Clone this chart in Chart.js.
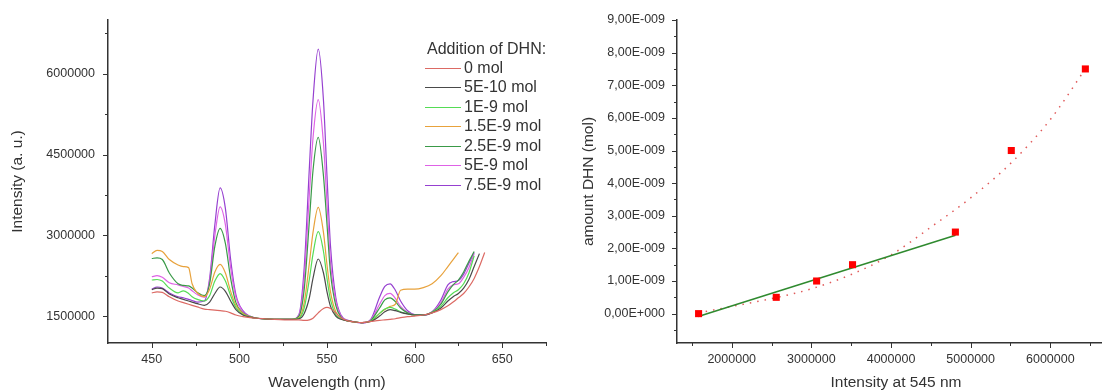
<!DOCTYPE html>
<html>
<head>
<meta charset="utf-8">
<script src="https://cdn.jsdelivr.net/npm/chart.js@4.4.1/dist/chart.umd.min.js"></script>
<style>
    html, body { margin: 0; padding: 0; background: #fff; width: 1102px; height: 392px; overflow: hidden; }
    #specChart { position: absolute; left: 0; top: 0; }
    #calChart  { position: absolute; left: 560px; top: 0; }
</style>
</head>
<body>
<canvas id="specChart" width="560" height="392"></canvas>
<canvas id="calChart" width="600" height="392"></canvas>
<script>
/* ── Data: spectra (intensity in units of 1 000 000) ── */
const wavelengths = [450, 453, 456, 460, 465, 468, 471, 473, 476, 480,
                     483, 486, 489, 492, 495, 498, 502, 506, 510, 520,
                     530, 534, 537, 540, 542, 545, 548, 550, 552, 555,
                     558, 562, 566, 570, 575, 580, 583, 586, 589, 592,
                     596, 600, 605, 610, 615, 619, 622, 625, 628, 631,
                     634, 637, 640];

const seriesLabels = ['0 mol', '5E-10 mol', '1E-9 mol', '1.5E-9 mol', '2.5E-9 mol', '5E-9 mol', '7.5E-9 mol'];
const seriesColors = ['#dc6a64', '#4a4a4a', '#55dc55', '#e8a23c', '#3a9a48', '#de62e6', '#9640d0'];

const mol0 = [1.93, 1.95, 1.94, 1.86, 1.78, 1.75, 1.72, 1.70, 1.67, 1.63,
              1.62, 1.61, 1.60, 1.59, 1.56, 1.52, 1.49, 1.47, 1.46, 1.44,
              1.43, 1.43, 1.42, 1.43, 1.46, 1.56, 1.64, 1.66, 1.64, 1.56,
              1.47, 1.41, 1.39, 1.38, 1.40, 1.42, 1.43, 1.44, 1.45, 1.47,
              1.49, 1.50, 1.52, 1.56, 1.62, 1.69, 1.76, 1.84, 1.92, 2.04,
              2.20, 2.42, 2.68];
const mol5e10 = [1.99, 2.02, 2.01, 1.91, 1.84, 1.81, 1.78, 1.76, 1.73, 1.70,
                 1.76, 1.92, 2.04, 1.96, 1.78, 1.62, 1.52, 1.48, 1.46, 1.44,
                 1.44, 1.45, 1.55, 1.85, 2.20, 2.56, 2.30, 1.95, 1.68, 1.50,
                 1.44, 1.41, 1.39, 1.38, 1.40, 1.50, 1.58, 1.62, 1.60, 1.57,
                 1.54, 1.52, 1.52, 1.56, 1.65, 1.78, 1.86, 1.92, 2.02, 2.18,
                 2.42, 2.66, null];
const mol1e9 = [2.17, 2.18, 2.15, 2.02, 1.93, 1.97, 1.92, 1.86, 1.81, 1.78,
                1.88, 2.15, 2.29, 2.15, 1.88, 1.66, 1.53, 1.48, 1.46, 1.44,
                1.44, 1.46, 1.65, 2.20, 2.65, 3.07, 2.70, 2.20, 1.80, 1.53,
                1.45, 1.41, 1.39, 1.38, 1.41, 1.55, 1.63, 1.66, 1.63, 1.58,
                1.54, 1.52, 1.52, 1.57, 1.68, 1.84, 1.93, 1.99, 2.10, 2.30,
                2.62, null, null];
const mol15e9 = [2.66, 2.72, 2.70, 2.55, 2.45, 2.42, 2.40, 2.10, 1.93, 1.86,
                 2.00, 2.32, 2.46, 2.30, 1.96, 1.70, 1.55, 1.49, 1.46, 1.44,
                 1.44, 1.47, 1.75, 2.50, 3.05, 3.52, 3.05, 2.45, 1.95, 1.58,
                 1.46, 1.41, 1.39, 1.38, 1.40, 1.55, 1.62, 1.68, 1.72, 1.98,
                 2.00, 2.00, 2.03, 2.10, 2.25, 2.42, 2.55, 2.68, null, null,
                 null, null, null];
const mol25e9 = [2.57, 2.58, 2.55, 2.30, 2.10, 2.07, 2.06, 2.02, 1.94, 1.88,
                 2.10, 2.80, 3.13, 2.85, 2.20, 1.75, 1.56, 1.49, 1.46, 1.44,
                 1.44, 1.50, 2.00, 3.30, 4.20, 4.82, 4.10, 3.20, 2.30, 1.70,
                 1.48, 1.41, 1.39, 1.38, 1.42, 1.65, 1.80, 1.84, 1.77, 1.65,
                 1.56, 1.52, 1.52, 1.57, 1.72, 1.95, 2.08, 2.17, 2.32, 2.52,
                 2.70, null, null];
const mol5e9 = [2.23, 2.25, 2.22, 2.12, 2.08, 2.05, 2.02, 1.97, 1.90, 1.85,
                2.15, 3.00, 3.53, 3.20, 2.40, 1.85, 1.58, 1.49, 1.46, 1.44,
                1.44, 1.52, 2.20, 3.80, 4.80, 5.52, 4.70, 3.60, 2.50, 1.78,
                1.50, 1.41, 1.39, 1.38, 1.43, 1.72, 1.88, 1.92, 1.83, 1.68,
                1.57, 1.52, 1.52, 1.57, 1.75, 2.00, 2.08, 2.10, 2.22, 2.40,
                2.66, null, null];
const mol75e9 = [2.00, 2.04, 2.02, 1.93, 1.86, 1.84, 1.81, 1.79, 1.76, 1.78,
                 2.20, 3.20, 3.88, 3.50, 2.55, 1.90, 1.60, 1.50, 1.46, 1.44,
                 1.44, 1.53, 2.40, 4.30, 5.50, 6.46, 5.50, 4.10, 2.80, 1.85,
                 1.52, 1.42, 1.39, 1.37, 1.44, 1.85, 2.05, 2.10, 1.98, 1.78,
                 1.60, 1.53, 1.52, 1.58, 1.80, 2.08, 2.14, 2.16, 2.28, 2.48,
                 2.68, null, null];
const spectra = [mol0, mol5e10, mol1e9, mol15e9, mol25e9, mol5e9, mol75e9];

/* ── Data: calibration (intensity in 1 000 000, amount in 1E-9 mol) ── */
const peakIntensity = [1.584, 2.559, 3.066, 3.517, 4.808, 5.51, 6.44];
const amountDHN     = [0, 0.5, 1.0, 1.5, 2.5, 5.0, 7.5];
const fitX   = [1.58, 4.81];
const fitY   = [-0.09, 2.40];
const trendX = [1.58, 2.0, 2.5, 3.0, 3.5, 4.0, 4.5, 5.0, 5.5, 6.0, 6.44];
const trendY = [0.02, 0.22, 0.46, 0.76, 1.20, 1.80, 2.65, 3.55, 4.60, 5.95, 7.5];

/* ── Ticks ── */
const specXMajor = [450, 500, 550, 600, 650];
const specXMinor = [475, 525, 575, 625, 675];
const specXLabels = ['450', '500', '550', '600', '650'];
const specYMajor = [1.5, 3.0, 4.5, 6.0];
const specYMinor = [2.25, 3.75, 5.25, 6.75];
const specYLabels = ['1500000', '3000000', '4500000', '6000000'];

const calXMajor = [2, 3, 4, 5, 6];
const calXMinor = [1.5, 2.5, 3.5, 4.5, 5.5, 6.5];
const calXLabels = ['2000000', '3000000', '4000000', '5000000', '6000000'];
const calYMajor = [0, 1, 2, 3, 4, 5, 6, 7, 8, 9];
const calYMinor = [-0.5, 0.5, 1.5, 2.5, 3.5, 4.5, 5.5, 6.5, 7.5, 8.5];
const calYLabels = ['0,00E+000', '1,00E-009', '2,00E-009', '3,00E-009', '4,00E-009',
                    '5,00E-009', '6,00E-009', '7,00E-009', '8,00E-009', '9,00E-009'];

/* ── Styling ── */
const FONT = '"Liberation Sans", Arial, sans-serif';
const TEXT = '#333';
const AXIS = '#333';

Chart.defaults.font.family = FONT;
Chart.defaults.color = TEXT;

/* ── Plugins ── */
const axisTicks = {
    id: 'axisTicks',
    afterDraw(chart, args, opts) {
        const { ctx, scales: { x, y } } = chart;
        ctx.save();
        ctx.strokeStyle = AXIS;
        ctx.lineWidth = 1;
        const mark = (scale, vals, len) => vals.forEach(v => {
            const p = Math.round(scale.getPixelForValue(v)) + 0.5;
            ctx.beginPath();
            if (scale.isHorizontal()) { ctx.moveTo(p, scale.top); ctx.lineTo(p, scale.top + len); }
            else { ctx.moveTo(scale.right - len, p); ctx.lineTo(scale.right, p); }
            ctx.stroke();
        });
        mark(x, opts.xMajor, 5); mark(x, opts.xMinor, 3);
        mark(y, opts.yMajor, 5); mark(y, opts.yMinor, 3);
        ctx.restore();
    }
};

const legendBox = {
    id: 'legendBox',
    afterDraw(chart, args, opts) {
        if (!opts.show) return;
        const ctx = chart.ctx;
        ctx.save();
        ctx.font = '16px ' + FONT;
        ctx.fillStyle = TEXT;
        ctx.textBaseline = 'middle';
        ctx.fillText(opts.title, opts.x + 2, opts.y);
        chart.data.datasets.forEach((ds, i) => {
            const y = Math.round(opts.y + 17.7 + i * 19.5) + 0.5;
            ctx.strokeStyle = ds.borderColor;
            ctx.lineWidth = 1;
            ctx.beginPath(); ctx.moveTo(opts.x, y); ctx.lineTo(opts.x + 36, y); ctx.stroke();
            ctx.fillText(ds.label, opts.x + 39, y);
        });
        ctx.restore();
    }
};

function axis(min, max, major, labels, title, fit, titlePad, tickPad) {
    return {
        type: 'linear', min, max,
        grid: { display: false, drawTicks: true, tickLength: 5 },
        border: { display: true, color: AXIS, width: 1.5 },
        afterBuildTicks: s => { s.ticks = major.map(v => ({ value: v })); },
        afterFit: fit,
        ticks: { autoSkip: false, maxRotation: 0, padding: tickPad, font: { size: 12.5 },
                 callback: (v, i) => labels[i] },
        title: { display: true, text: title, font: { size: 15.5 }, padding: titlePad }
    };
}

/* ── Spectra chart ── */
new Chart(document.getElementById('specChart'), {
    type: 'line',
    data: {
        datasets: spectra.map((vals, i) => ({
            label: seriesLabels[i],
            data: wavelengths.map((w, j) => ({ x: w, y: vals[j] })).filter(p => p.y !== null),
            borderColor: seriesColors[i],
            borderWidth: 1.2,
            pointRadius: 0,
            cubicInterpolationMode: 'monotone'
        }))
    },
    options: {
        responsive: false, animation: false,
        layout: { padding: { left: 0, right: 14, top: 20, bottom: 0 } },
        plugins: {
            legend: { display: false }, tooltip: { enabled: false },
            legendBox: { show: true, title: 'Addition of DHN:', x: 425, y: 50 },
            axisTicks: { xMajor: specXMajor, xMinor: specXMinor, yMajor: specYMajor, yMinor: specYMinor }
        },
        scales: {
            x: axis(425, 675, specXMajor, specXLabels, 'Wavelength (nm)',
                    s => { s.height = 49; }, { top: 0, bottom: 0 }, 4),
            y: axis(1.0, 7.0, specYMajor, specYLabels, 'Intensity (a. u.)',
                    s => { s.width = 108; }, { top: 8, bottom: 0 }, 8)
        }
    },
    plugins: [axisTicks, legendBox]
});

/* ── Calibration chart ── */
new Chart(document.getElementById('calChart'), {
    type: 'line',
    data: {
        datasets: [
            {
                label: 'data',
                data: peakIntensity.map((v, i) => ({ x: v, y: amountDHN[i] })),
                showLine: false,
                pointStyle: 'rect', pointRadius: 5,
                pointBackgroundColor: '#ff0000', pointBorderColor: '#ff0000', pointBorderWidth: 0,
                order: 0
            },
            {
                label: 'linear fit',
                data: fitX.map((v, i) => ({ x: v, y: fitY[i] })),
                borderColor: '#2f8a2f', borderWidth: 1.5, pointRadius: 0,
                order: 1
            },
            {
                label: 'trend',
                data: trendX.map((v, i) => ({ x: v, y: trendY[i] })),
                borderColor: '#e05a5a', borderWidth: 1.5, borderDash: [1.5, 6],
                pointRadius: 0, cubicInterpolationMode: 'monotone',
                order: 2
            }
        ]
    },
    options: {
        responsive: false, animation: false,
        layout: { padding: { left: 0, right: 45, top: 20, bottom: 0 } },
        plugins: {
            legend: { display: false }, tooltip: { enabled: false },
            legendBox: { show: false },
            axisTicks: { xMajor: calXMajor, xMinor: calXMinor, yMajor: calYMajor, yMinor: calYMinor }
        },
        scales: {
            x: axis(1.313, 6.812, calXMajor, calXLabels, 'Intensity at 545 nm',
                    s => { s.height = 49; }, { top: 0, bottom: 0 }, 4),
            y: axis(-0.9, 9.0, calYMajor, calYLabels, 'amount DHN (mol)',
                    s => { s.width = 117; }, { top: 19, bottom: 0 }, 7)
        }
    },
    plugins: [axisTicks, legendBox]
});
</script>
</body>
</html>
